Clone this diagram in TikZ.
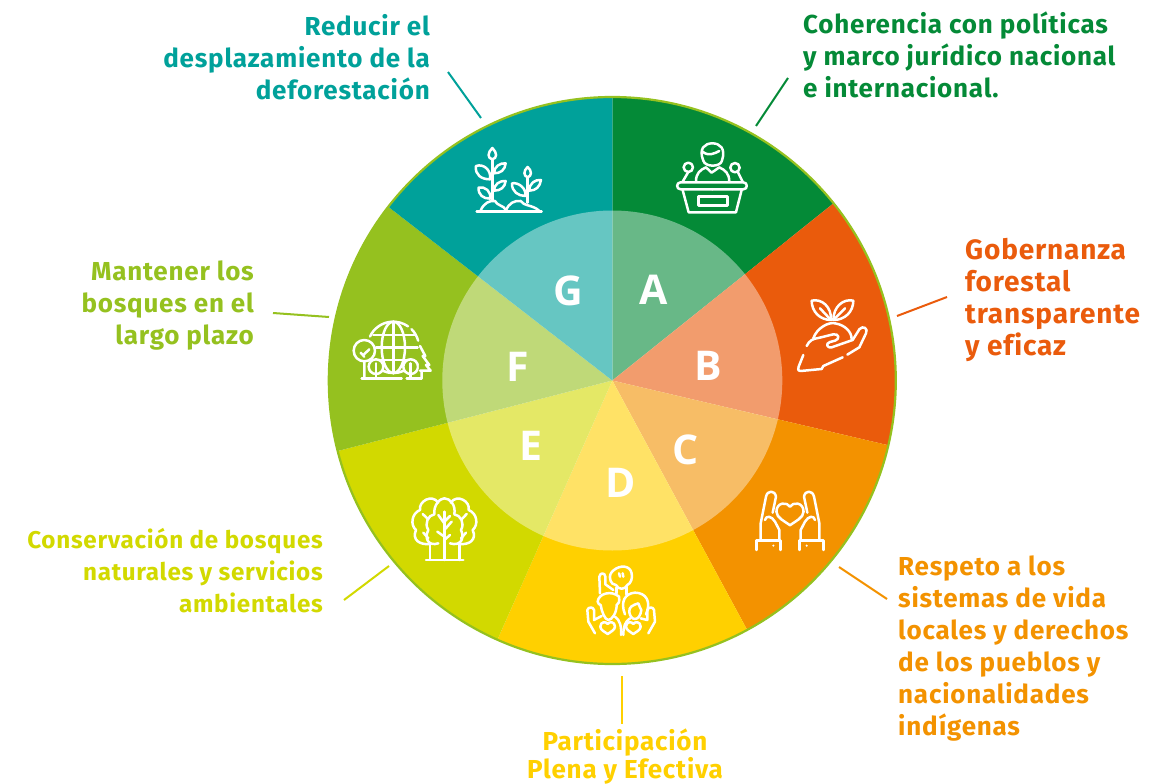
\documentclass[tikz,border=0pt]{standalone}
\usepackage{fontspec}
\setmainfont{Fira Sans}[LetterSpace=3,Ligatures=NoCommon]
\newfontfamily\letterfont{Open Sans}
\usetikzlibrary{calc}
\definecolor{cA}{HTML}{048A37}
\definecolor{cB}{HTML}{EA5B0C}
\definecolor{cC}{HTML}{F39200}
\definecolor{cD}{HTML}{FFD000}
\definecolor{cE}{HTML}{D2D900}
\definecolor{cF}{HTML}{95C11F}
\definecolor{cG}{HTML}{00A19A}
\tikzset{
 lab/.style={inner sep=0pt,font=\fontsize{26}{32}\selectfont\bfseries},
 labbig/.style={inner sep=0pt,font=\fontsize{28}{32}\selectfont\bfseries},
 labsmall/.style={inner sep=0pt,font=\fontsize{24.2}{32}\selectfont\bfseries},
 labtight/.style={inner sep=0pt,font=\fontsize{26}{28}\selectfont\bfseries},
 letter/.style={text=white,inner sep=0pt,font=\fontsize{41}{41}\selectfont\letterfont\bfseries},
 conn/.style={line width=2pt},
 icon/.style={draw=white,line width=2.5pt,line cap=round,line join=round},
 zoomat/.style={shift={#1},x=0.3333pt,y=-0.3333pt},
}
\newcommand{\heartat}[3]{\draw[icon,shift={(#1,#2)},scale=#3] (0,-8) .. controls (-4,-16) and (-22,-16) .. (-22,0) .. controls (-22,10) and (-8,16) .. (0,22) .. controls (8,16) and (22,10) .. (22,0) .. controls (22,-16) and (4,-16) .. (0,-8) -- cycle;}
\begin{document}
\begin{tikzpicture}[x=1pt,y=-1pt]
\useasboundingbox (0,0) rectangle (1176,784);
\coordinate (c) at (612.3,380.5);
\foreach \col/\a/\b in {cA/-90/-38.7,cB/-38.7/13.2,cC/13.2/61.6,cD/61.6/113.9,cE/113.9/165.6,cF/165.6/217.8,cG/217.8/270}{
 \fill[\col] (c) -- ($(c)+(\a:283.5)$) arc[start angle=\a,end angle=\b,radius=283.5] -- cycle;
}
\draw[cF,line width=2.2pt] (c) circle[radius=283.5];
\fill[white,opacity=.4] (c) circle[radius=170];
\node[letter] (la) at (654,290) {A};
\node[letter] (lb) at (708,366) {B};
\node[letter] (lc) at (686,450) {C};
\node[letter] (ld) at (621,483) {D};
\node[letter] (le) at (531,446) {E};
\node[letter] (lf) at (518,367) {F};
\node[letter] (lg) at (568,291) {G};
% labels
\node[lab,text=cG,anchor=north east,align=right] (tg) at (430,14) {Reducir el\\desplazamiento de la\\deforestación};
\node[lab,text=cA,anchor=north west,align=left] (ta) at (803,12) {Coherencia con políticas\\y marco jurídico nacional\\e internacional.};
\node[labbig,text=cB,anchor=north west,align=left] (tb) at (965,238) {Gobernanza\\forestal\\transparente\\y eficaz};
\node[lab,text=cC,anchor=north west,align=left] (tc) at (898,556) {Respeto a los\\sistemas de vida\\locales y derechos\\de los pueblos y\\nacionalidades\\indígenas};
\node[labtight,text=cD,anchor=north,align=center] (td) at (625,729) {Participación\\Plena y Efectiva};
\node[labsmall,text=cE,anchor=north east,align=right] (te) at (323,528) {Conservación de bosques\\naturales y servicios\\ambientales};
\node[lab,text=cF,anchor=north east,align=right] (tf) at (254,261) {Mantener los\\bosques en el\\largo plazo};
% connectors
\coordinate (g1) at (448,72); \coordinate (g2) at (481,118);
\coordinate (a1) at (788,78); \coordinate (a2) at (756,126);
\coordinate (b1) at (947,297); \coordinate (b2) at (897,316);
\coordinate (c1) at (887,599); \coordinate (c2) at (839,567);
\coordinate (d1) at (622,676); \coordinate (d2) at (622,724);
\coordinate (e1) at (344,600); \coordinate (e2) at (389,566);
\coordinate (f1) at (273,313); \coordinate (f2) at (329,317);
\draw[conn,cG] (g1)--(g2);
\draw[conn,cA] (a1)--(a2);
\draw[conn,cB] (b1)--(b2);
\draw[conn,cC] (c1)--(c2);
\draw[conn,cD] (d1)--(d2);
\draw[conn,cE] (e1)--(e2);
\draw[conn,cF] (f1)--(f2);
% plants and podium
\begin{scope}[zoomat={(440,120)}]
\draw[icon] (157,118)--(157,240) (263,172)--(263,248);
\draw[icon] (157,84) .. controls (142,98) and (142,115) .. (157,118) .. controls (172,115) and (172,98) .. (157,84) -- cycle;
\draw[icon] (263,141) .. controls (250,152) and (250,168) .. (263,172) .. controls (276,168) and (276,152) .. (263,141) -- cycle;
\draw[icon] (108,138) .. controls (130,130) and (155,150) .. (150,178) .. controls (125,178) and (104,165) .. (108,138) -- cycle;
\draw[icon] (197,130) .. controls (180,128) and (162,140) .. (162,160) .. controls (182,160) and (195,150) .. (197,130) -- cycle;
\draw[icon] (197,183) .. controls (180,181) and (162,193) .. (162,212) .. controls (182,212) and (195,202) .. (197,183) -- cycle;
\draw[icon] (116,203) .. controls (135,198) and (155,215) .. (150,236) .. controls (130,236) and (114,225) .. (116,203) -- cycle;
\draw[icon] (216,190) .. controls (235,186) and (260,205) .. (256,228) .. controls (235,228) and (215,215) .. (216,190) -- cycle;
\draw[icon] (303,180) .. controls (285,178) and (268,190) .. (268,212) .. controls (288,212) and (300,200) .. (303,180) -- cycle;
\draw[icon] (110,275)--(305,275);
\draw[icon] (122,272) .. controls (130,250) and (150,240) .. (165,243) .. controls (172,258) and (190,255) .. (198,270);
\draw[icon] (198,272) .. controls (205,250) and (225,240) .. (242,243) .. controls (250,258) and (280,255) .. (297,272);
\draw[icon] (790,122) .. controls (775,85) and (795,70) .. (817,70) .. controls (840,70) and (858,85) .. (846,122) .. controls (842,142) and (795,142) .. (790,122) -- cycle;
\draw[icon] (788,95) .. controls (805,110) and (825,100) .. (838,93);
\draw[icon] (768,185) .. controls (768,160) and (780,150) .. (798,142) -- (815,158) -- (838,142) .. controls (855,150) and (868,160) .. (868,185);
\draw[icon] (722,187) -- (910,187) .. controls (924,187) and (924,208) .. (910,208) -- (722,208) .. controls (708,208) and (708,187) .. (722,187) -- cycle;
\draw[icon] (728,210)--(746,277)--(888,277)--(905,210);
\draw[icon] (775,230) rectangle (862,256);
\draw[icon] (745,142) circle[radius=14] (885,143) circle[radius=14];
\draw[icon] (745,156)--(728,185) (893,155)--(908,185);
\fill[white] (817,208) circle[radius=4];
\end{scope}
% hand with sprout
\begin{scope}[zoomat={(770,270)}]
\draw[icon] (125,92) .. controls (155,85) and (185,110) .. (183,150) .. controls (150,150) and (125,125) .. (125,92) -- cycle;
\draw[icon] (250,92) .. controls (220,85) and (190,110) .. (190,150) .. controls (225,150) and (250,125) .. (250,92) -- cycle;
\draw[icon] (150,115)--(183,150) (225,115)--(190,150);
\draw[icon] (130,205) .. controls (140,175) and (175,155) .. (195,160) .. controls (225,165) and (245,185) .. (245,208);
\draw[icon] (110,228) .. controls (118,212) and (128,206) .. (145,204) -- (190,193) .. controls (208,190) and (210,208) .. (195,212) -- (180,216) .. controls (165,220) and (172,236) .. (185,232) -- (248,210) -- (268,178) .. controls (278,165) and (296,175) .. (288,190) -- (268,232) -- (232,254);
\draw[icon] (218,262) -- (160,288) -- (155,297) -- (92,303) .. controls (83,303) and (83,295) .. (86,290) -- (100,255);
\end{scope}
% caring hands
\begin{scope}[zoomat={(740,480)}]
\heartat{150}{95}{1.85}
\foreach \sc/\sh in {1/0pt,-1/-100pt}{
\begin{scope}[xscale=\sc,xshift=\sh]
\draw[icon] (62,178) -- (62,130) -- (78,50) .. controls (82,30) and (105,30) .. (108,50) -- (98,98);
\draw[icon] (75,120) .. controls (78,105) and (95,108) .. (105,125) -- (118,150) -- (118,178);
\draw[icon] (50,210) -- (50,182) -- (122,182) -- (122,210);
\fill[white] (100,197) circle[radius=3.5];
\end{scope}}
\end{scope}
% people
\begin{scope}[zoomat={(570,555)}]
\draw[icon] (122,78) .. controls (115,60) and (125,50) .. (132,45) .. controls (150,30) and (180,30) .. (185,55) .. controls (188,70) and (183,85) .. (172,90) .. controls (165,105) and (145,105) .. (138,90) .. controls (130,88) and (123,85) .. (122,78) -- cycle;
\draw[icon] (147,55)--(150,65) (158,55)--(160,65);
\draw[icon] (140,98)--(140,115) (170,95)--(170,118);
\draw[icon] (90,115) -- (88,65) .. controls (90,52) and (105,52) .. (106,65) -- (106,88) -- (130,105);
\draw[icon] (83,140) .. controls (85,115) and (125,105) .. (147,125) .. controls (150,140) and (145,148) .. (140,150) .. controls (140,175) and (125,195) .. (115,195) .. controls (105,195) and (95,170) .. (92,150) .. controls (88,150) and (84,145) .. (83,140) -- cycle;
\draw[icon] (165,178) .. controls (150,140) and (165,115) .. (195,113) .. controls (228,113) and (245,140) .. (228,178) (178,172) .. controls (175,155) and (190,150) .. (205,145) .. controls (208,155) and (212,160) .. (214,165) .. controls (212,180) and (205,192) .. (195,192) .. controls (185,192) and (180,182) .. (178,172);
\draw[icon] (75,235) -- (55,200) -- (52,165) .. controls (55,155) and (70,155) .. (72,165) -- (72,195) -- (95,183);
\draw[icon] (135,185) .. controls (150,195) and (155,215) .. (153,240);
\draw[icon] (160,240) .. controls (160,215) and (165,200) .. (180,190) (212,190) -- (232,195) -- (232,165) .. controls (235,155) and (250,155) .. (252,165) -- (255,200) -- (235,235);
\heartat{113}{215}{1}
\heartat{190}{215}{1}
\end{scope}
% tree
\begin{scope}[zoomat={(400,480)}]
\draw[icon] (78,240)--(190,240);
\draw[icon] (90,190)--(90,240) (133,95)--(133,240) (178,190)--(178,240);
\draw[icon] (133,130)--(115,105) (133,125)--(150,108) (133,170)--(112,155) (133,150)--(155,125) (133,180)--(150,165) (68,102)--(85,118) (70,158)--(85,175) (200,102)--(185,118) (198,158)--(183,175);
\draw[icon] (115,190) .. controls (85,200) and (72,175) .. (85,150) .. controls (72,130) and (85,105) .. (103,103) .. controls (100,75) and (120,55) .. (133,55) .. controls (150,55) and (168,75) .. (163,103) .. controls (182,105) and (195,130) .. (183,150) .. controls (195,175) and (182,200) .. (150,190);
\draw[icon] (88,192) .. controls (60,195) and (35,180) .. (48,150) .. controls (30,135) and (35,100) .. (60,90) .. controls (55,65) and (95,40) .. (115,68);
\draw[icon] (180,192) .. controls (206,195) and (232,180) .. (218,150) .. controls (236,135) and (232,100) .. (206,90) .. controls (212,65) and (172,40) .. (152,68);
\end{scope}
% globe with trees
\begin{scope}[zoomat={(340,310)}]
\draw[icon] (90,79.5) arc[start angle=-155,end angle=-55,radius=77];
\draw[icon] (214.5,57.5) arc[start angle=-45,end angle=-15,radius=77];
\draw[icon] (192.5,182) arc[start angle=65,end angle=115,radius=77];
\draw[icon] (160,112) circle[x radius=35,y radius=77];
\draw[icon] (160,35)--(160,190);
\draw[icon] (100,75)--(225,75) (108,112)--(233,112) (122,150)--(218,150);
\fill[cF] (73,122) circle[radius=32] (108,170) circle[radius=22] (212,170) circle[radius=22];
\draw[icon] (73,122) circle[radius=32];
\draw[icon] (73,154)--(73,205) (73,140)--(62,128) (73,132)--(88,118);
\draw[icon] (108,170) circle[radius=22] (212,170) circle[radius=22];
\draw[icon] (108,160)--(108,205) (212,160)--(212,205);
\fill[cF] (240,108) -- (262,150) -- (272,182) -- (236,182) -- cycle;
\draw[icon] (240,108) -- (256,138) -- (248,138) -- (268,165) -- (258,165) -- (272,182) -- (240,182) (245,182)--(245,205);
\draw[icon] (65,205)--(185,205) (200,205)--(245,205);
\end{scope}
\end{tikzpicture}
\end{document}
